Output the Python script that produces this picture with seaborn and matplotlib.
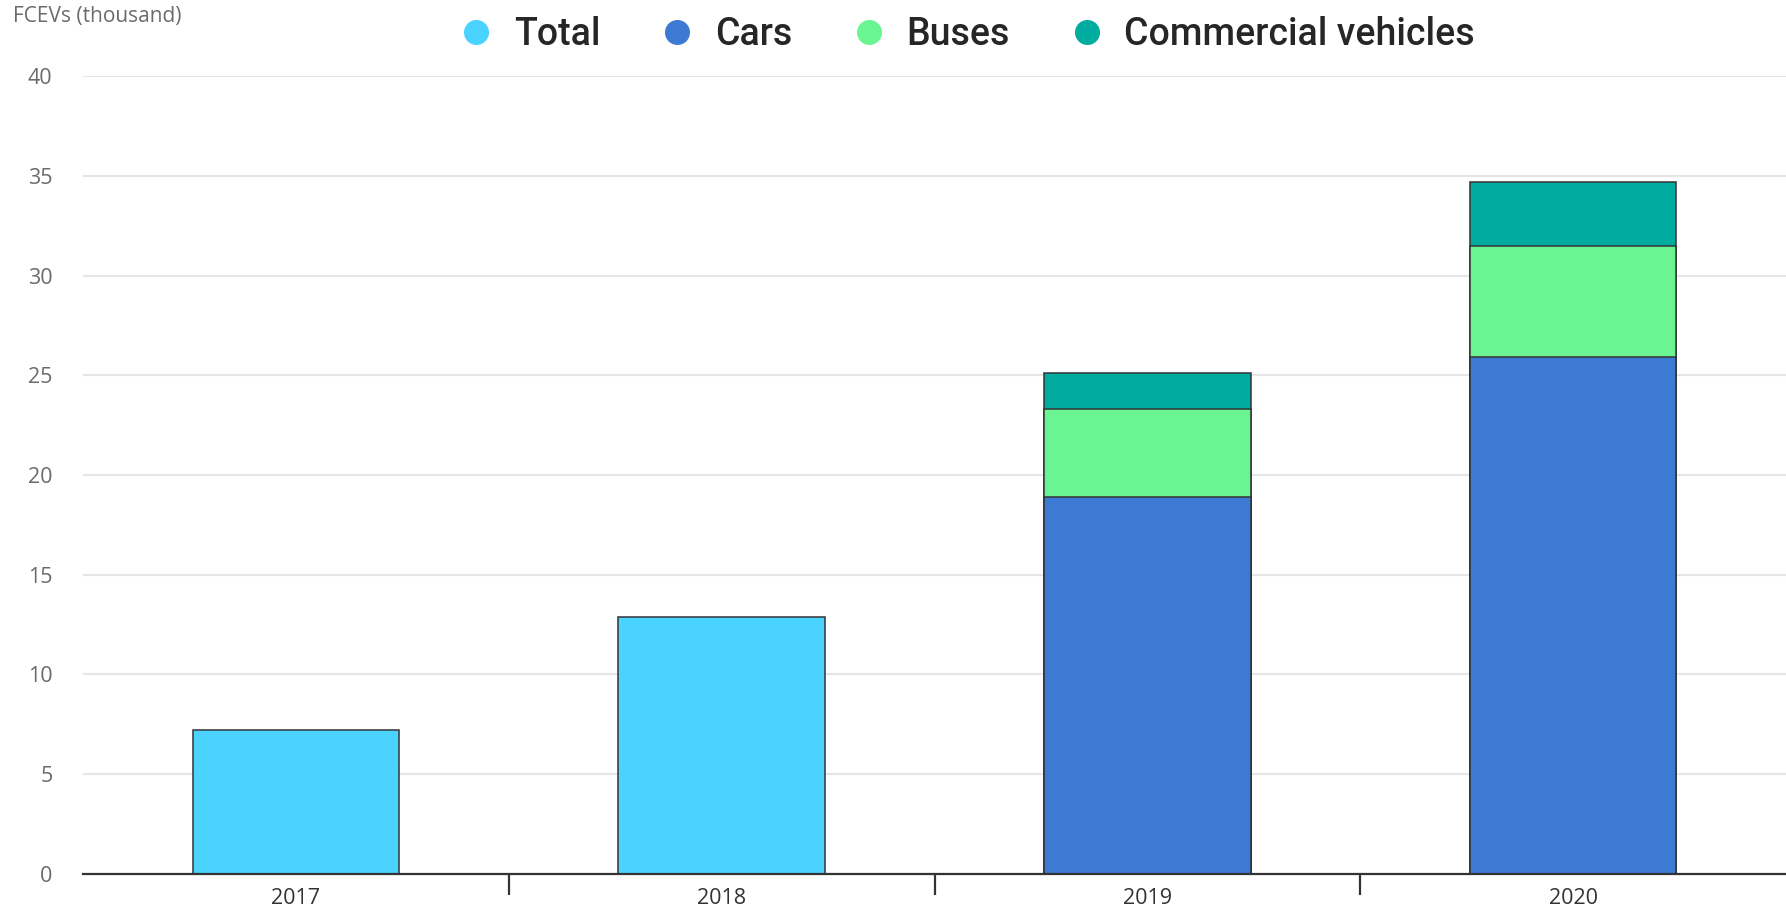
import pandas as pd
import seaborn as sns
import matplotlib.pyplot as plt
from matplotlib.lines import Line2D

years = ["2017", "2018", "2019", "2020"]
total = [7.2, 12.9, None, None]
cars = [None, None, 18.9, 25.9]
buses = [None, None, 4.4, 5.6]
commercial = [None, None, 1.8, 3.2]

series_names = ["Total", "Cars", "Buses", "Commercial vehicles"]
colors = {"Total": "#4AD3FF", "Cars": "#3D7AD4", "Buses": "#6BF592",
          "Commercial vehicles": "#00AC9F"}

df = pd.DataFrame({"year": years, "Total": total, "Cars": cars,
                   "Buses": buses, "Commercial vehicles": commercial})
df["cars_top"] = df["Cars"]
df["buses_top"] = df["Cars"] + df["Buses"]
df["comm_top"] = df["buses_top"] + df["Commercial vehicles"]

sns.set_theme(style="white")
plt.rcParams["font.family"] = ["Open Sans", "DejaVu Sans"]

fig = plt.figure(figsize=(17.86, 9.14), dpi=100)
ax = fig.add_axes([0.0465, 0.044, 0.9535, 0.8725])

# stacked bars drawn as overlapping cumulative layers, top layer first
layers = [("comm_top", "Commercial vehicles"), ("buses_top", "Buses"),
          ("cars_top", "Cars"), ("Total", "Total")]
for col, name in layers:
    sub = df.dropna(subset=[col])
    sns.barplot(data=sub, x="year", y=col, order=years, color=colors[name],
                width=0.485, edgecolor="#333333", linewidth=1.1,
                saturation=1, ax=ax, zorder=3)

ax.set_xlim(-0.5, 3.5)
ax.set_ylim(0, 40)
ax.set_yticks(range(0, 41, 5))
ax.set_xlabel("")
ax.set_ylabel("")
ax.grid(axis="y", color="#e6e6e6", linewidth=1.5, zorder=0)
ax.grid(axis="x", visible=False)
for s in ["left", "right", "top"]:
    ax.spines[s].set_visible(False)
ax.spines["bottom"].set_color("#333333")
ax.spines["bottom"].set_linewidth(1.6)
ax.spines["bottom"].set_zorder(5)

ax.tick_params(axis="y", length=0, pad=22, labelsize=15.5, labelcolor="#6b6b6b")
ax.tick_params(axis="x", which="major", bottom=True, length=0, pad=10,
               labelsize=15.5, labelcolor="#333333")
ax.set_xticks([0.5, 1.5, 2.5], minor=True)
ax.tick_params(axis="x", which="minor", bottom=True, length=15, width=1.6,
               color="#333333", direction="out")

fig.text(0.007, 0.982, "FCEVs (thousand)", fontsize=15, color="#6b6b6b",
         va="center", ha="left")

handles = [Line2D([], [], marker="o", linestyle="", markersize=17,
                  markerfacecolor=colors[n], markeredgecolor=colors[n])
           for n in series_names]
leg = fig.legend(handles, series_names, loc="center", ncol=4,
                 bbox_to_anchor=(0.541, 0.962), frameon=False,
                 prop={"family": "Roboto", "size": 27, "weight": "medium"},
                 handlelength=1.0, handletextpad=0.5, columnspacing=1.55)

fig.savefig("out.png", dpi=100, facecolor="white")
